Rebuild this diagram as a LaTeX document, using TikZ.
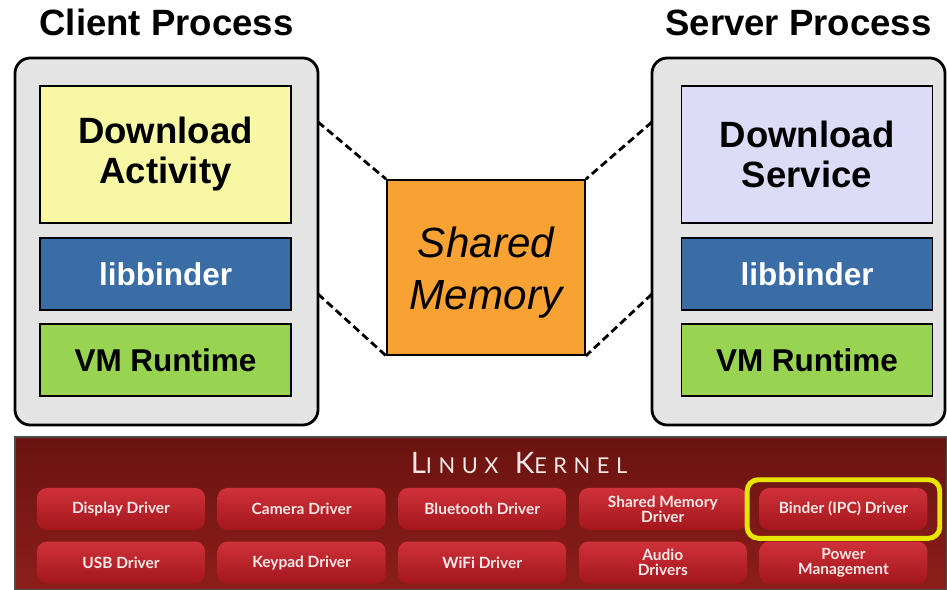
\documentclass[tikz,border=0pt]{standalone}
\usepackage{fontspec}
\setmainfont{Liberation Sans}
\newfontfamily\kernelfont{Lato}
\usetikzlibrary{positioning,fit,calc}

\definecolor{procgray}{HTML}{E4E4E4}
\definecolor{actyellow}{HTML}{F8F8A4}
\definecolor{svclilac}{HTML}{DCDCF8}
\definecolor{binderblue}{HTML}{3A6CA6}
\definecolor{vmgreen}{HTML}{98D452}
\definecolor{shmorange}{HTML}{F8A233}
\definecolor{kerneltop}{HTML}{6A1310}
\definecolor{kernelbot}{HTML}{8C1E1B}
\definecolor{btntop}{HTML}{D0313A}
\definecolor{btnbot}{HTML}{A3161C}
\definecolor{btntext}{HTML}{F6E8E6}
\definecolor{hiliteyellow}{HTML}{E6E600}

\begin{document}
\begin{tikzpicture}[
    x=0.025cm, y=0.025cm,
    proc/.style={rectangle, draw, line width=2pt, rounded corners=11pt, fill=procgray, minimum height=9.175cm, outer sep=0pt},
    layer/.style={rectangle, draw, line width=1.2pt, minimum width=6.275cm, align=center, inner sep=0pt, outer sep=0pt, font=\bfseries\fontsize{26}{28.5}\selectfont},
    small layer/.style={layer, minimum height=1.8cm, font=\bfseries\fontsize{22.4}{24}\selectfont},
    title/.style={font=\bfseries\fontsize{26}{28}\selectfont, inner sep=0pt},
    shm/.style={rectangle, draw, line width=1.2pt, fill=shmorange, minimum width=4.95cm, minimum height=4.375cm, align=center, font=\itshape\fontsize{30}{37}\selectfont},
    mapline/.style={line width=2pt, dash pattern=on 5.5pt off 3pt},
    drv/.style={rectangle, rounded corners=7pt, top color=btntop, bottom color=btnbot, minimum width=4.2cm, minimum height=1.05cm, inner sep=0pt, align=center, text=btntext, font=\kernelfont\bfseries\fontsize{11}{10.5}\selectfont},
    hilite/.style={rectangle, draw=hiliteyellow, line width=3.5pt, rounded corners=8pt, inner xsep=0.3cm, inner ysep=0.2cm},
]
\useasboundingbox (0,0) rectangle (947,-590);

% the two processes
\node[proc, minimum width=7.575cm] (client) at (166.5,-241.5) {};
\node[proc, minimum width=7.325cm] (server) at (798.5,-241.5) {};
\node[title, above=0.55cm of client] (clienttitle) {Client Process};
\node[title, above=0.55cm of server] (servertitle) {Server Process};

\node[layer, fill=actyellow, minimum height=3.425cm] (act) at (165.5,-154.5) {Download\\Activity};
\node[small layer, fill=binderblue, text=white, below=0.375cm of act] (libc) {libbinder};
\node[small layer, fill=vmgreen, below=0.35cm of libc] (vmc) {VM Runtime};

\node[layer, fill=svclilac, minimum height=3.425cm] (svc) at (807,-154.5) {Download\\Service};
\node[small layer, fill=binderblue, text=white, below=0.375cm of svc] (libs) {libbinder};
\node[small layer, fill=vmgreen, below=0.35cm of libs] (vms) {VM Runtime};

% shared memory mapped into both
\node[shm] (mem) at (486,-267.5) {\raisebox{-10pt}[0pt][0pt]{\begin{tabular}{@{}c@{}}Shared\\Memory\end{tabular}}};
\coordinate (cmapa) at (318,-122);
\coordinate (cmapb) at (318,-294);
\coordinate (smapa) at (652,-122);
\coordinate (smapb) at (652,-294);
\draw[mapline] (cmapa) -- (mem.north west);
\draw[mapline] (cmapb) -- (mem.south west);
\draw[mapline] (smapa) -- (mem.north east);
\draw[mapline] (smapb) -- (mem.south east);

% kernel
\node[rectangle, draw=black!70, line width=1pt, top color=kerneltop, bottom color=kernelbot, minimum width=23.3cm, minimum height=3.825cm, outer sep=0pt] (kernel) at (481,-513.5) {};
\node[text=btntext, font=\kernelfont\addfontfeature{LetterSpace=30}] (kerneltitle) at (519,-463)
  {{\fontsize{21}{21}\selectfont L}{\fontsize{15.5}{15.5}\selectfont INUX}\hspace{6pt} {\fontsize{21}{21}\selectfont K}{\fontsize{15.5}{15.5}\selectfont ERNEL}};

\node[drv] (disp) at (121,-509) {Display Driver};
\node[drv, right=0.3cm of disp] (cam) {Camera Driver};
\node[drv, right=0.3cm of cam] (bt) {Bluetooth Driver};
\node[drv, right=0.3cm of bt] (shmdrv) {Shared Memory\\Driver};
\node[drv, right=0.3cm of shmdrv] (binder) {Binder (IPC) Driver};
\node[drv, below=0.275cm of disp] (usb) {USB Driver};
\node[drv, below=0.275cm of cam] (key) {Keypad Driver};
\node[drv, below=0.275cm of bt] (wifi) {WiFi Driver};
\node[drv, below=0.275cm of shmdrv] (audio) {Audio\\Drivers};
\node[drv, below=0.275cm of binder] (power) {Power\\Management};
\node[hilite, fit=(binder)] (binderhl) {};
\end{tikzpicture}
\end{document}
